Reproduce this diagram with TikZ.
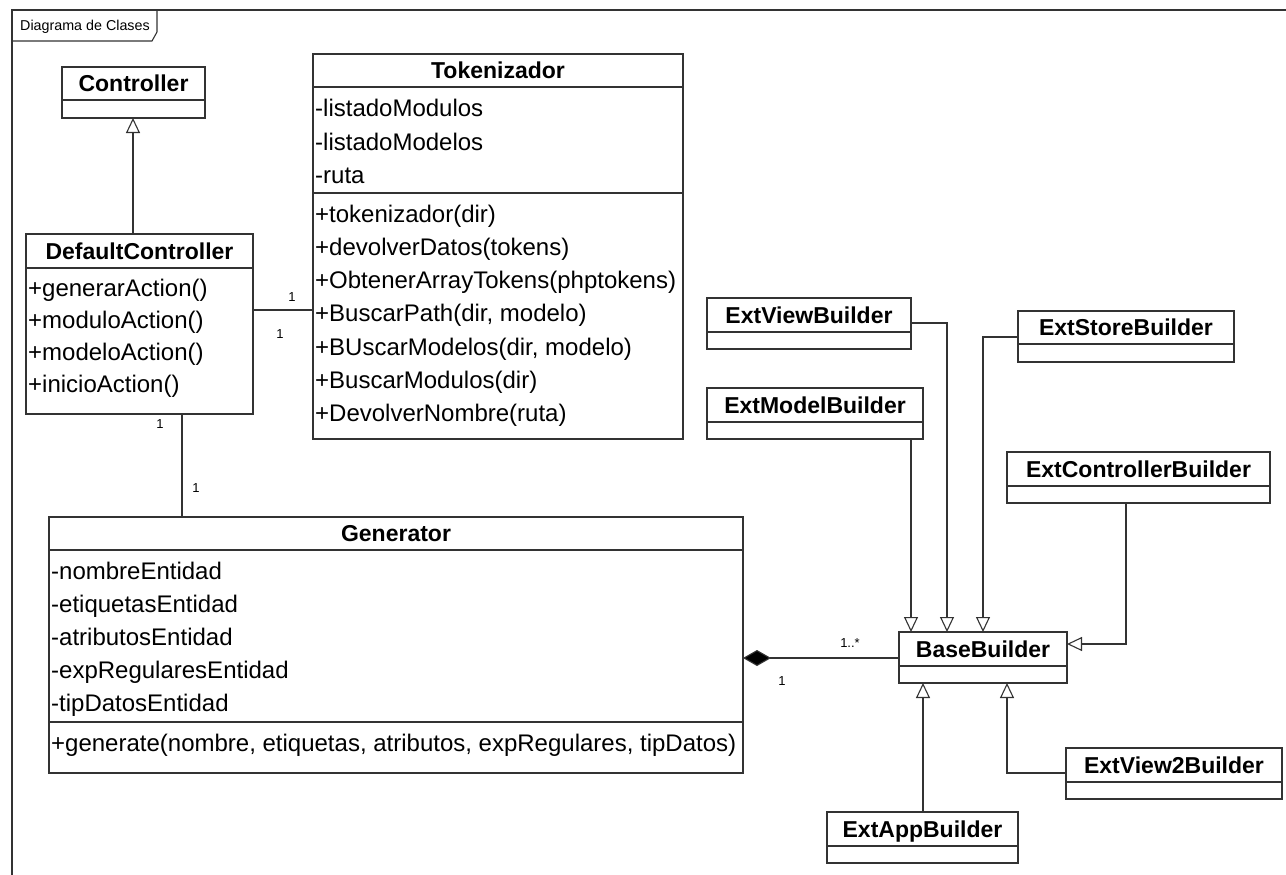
\documentclass[tikz,border=0pt]{standalone}
\usepackage{fontspec}
\setmainfont{Liberation Sans}
\usetikzlibrary{arrows.meta}
\begin{document}
\begin{tikzpicture}[x=1pt,y=-1pt,
  cls/.style={draw=black!80, line width=1.1pt, rectangle, anchor=north west, inner sep=0pt, outer sep=0pt},
  sepline/.style={draw=black!80, line width=1.1pt},
  cname/.style={anchor=base, font=\fontsize{23}{26}\selectfont\bfseries, inner sep=0pt},
  member/.style={anchor=base west, font=\fontsize{24}{27}\selectfont, inner sep=0pt},
  mult/.style={anchor=center, font=\fontsize{13}{15}\selectfont, inner sep=0pt},
  conn/.style={draw=black!80, line width=1.1pt},
  inh/.style={conn, -{Triangle[open, length=15pt, width=14pt, fill=white]}},
  comp/.style={conn, {Diamond[length=28pt, width=16pt, fill=black]}-},
]
\useasboundingbox (0,0) rectangle (1286,875);
% frame
\draw[conn] (12,875) -- (12,10) -- (1286,10);
\draw[conn] (12,41) -- (152,41) -- (157,32) -- (157,10);
\node[anchor=base west, font=\fontsize{14.3}{16}\selectfont, inner sep=0pt] (frametitle) at (20,31) {Diagrama de Clases};

% Controller
\node[cls, minimum width=143, minimum height=51] (ctrl) at (62,67) {};
\draw[sepline] (62,100) -- (205,100);
\node[cname] (ctrlN) at (133.5,91.5) {Controller};

% DefaultController
\node[cls, minimum width=227, minimum height=180] (dc) at (26,234) {};
\draw[sepline] (26,268) -- (253,268);
\node[cname] (dcN) at (139.5,259) {DefaultController};
\node[member] (dc1) at (28,296) {+generarAction()};
\node[member] (dc2) at (28,328) {+moduloAction()};
\node[member] (dc3) at (28,360) {+modeloAction()};
\node[member] (dc4) at (28,392) {+inicioAction()};

% Tokenizador
\node[cls, minimum width=370, minimum height=385] (tok) at (313,54) {};
\draw[sepline] (313,87) -- (683,87);
\draw[sepline] (313,193) -- (683,193);
\node[cname] (tokN) at (498,78.5) {Tokenizador};
\node[member] (ta1) at (315,117) {-listadoModulos};
\node[member] (ta2) at (315,150) {-listadoModelos};
\node[member] (ta3) at (315,183) {-ruta};
\node[member] (tm1) at (315,222) {+tokenizador(dir)};
\node[member] (tm2) at (315,255) {+devolverDatos(tokens)};
\node[member] (tm3) at (315,288) {+ObtenerArrayTokens(phptokens)};
\node[member] (tm4) at (315,321) {+BuscarPath(dir, modelo)};
\node[member] (tm5) at (315,355) {+BUscarModelos(dir, modelo)};
\node[member] (tm6) at (315,388) {+BuscarModulos(dir)};
\node[member] (tm7) at (315,421) {+DevolverNombre(ruta)};

% Generator
\node[cls, minimum width=694, minimum height=256] (gen) at (49,517) {};
\draw[sepline] (49,550) -- (743,550);
\draw[sepline] (49,722) -- (743,722);
\node[cname] (genN) at (396,541.5) {Generator};
\node[member] (ga1) at (51,579) {-nombreEntidad};
\node[member] (ga2) at (51,612) {-etiquetasEntidad};
\node[member] (ga3) at (51,645) {-atributosEntidad};
\node[member] (ga4) at (51,678) {-expRegularesEntidad};
\node[member] (ga5) at (51,711) {-tipDatosEntidad};
\node[member] (gm1) at (51,751) {+generate(nombre, etiquetas, atributos, expRegulares, tipDatos)};

% ExtViewBuilder
\node[cls, minimum width=204, minimum height=51] (ev) at (707,298) {};
\draw[sepline] (707,332) -- (911,332);
\node[cname] (evN) at (809,323) {ExtViewBuilder};

% ExtModelBuilder
\node[cls, minimum width=216, minimum height=51] (em) at (707,388) {};
\draw[sepline] (707,422) -- (923,422);
\node[cname] (emN) at (815,413) {ExtModelBuilder};

% ExtStoreBuilder
\node[cls, minimum width=216, minimum height=51] (es) at (1018,311) {};
\draw[sepline] (1018,344) -- (1234,344);
\node[cname] (esN) at (1126,335.5) {ExtStoreBuilder};

% ExtControllerBuilder
\node[cls, minimum width=263, minimum height=51] (ec) at (1007,452) {};
\draw[sepline] (1007,486) -- (1270,486);
\node[cname] (ecN) at (1138.5,477) {ExtControllerBuilder};

% BaseBuilder
\node[cls, minimum width=168, minimum height=51] (base) at (899,632) {};
\draw[sepline] (899,666) -- (1067,666);
\node[cname] (baseN) at (983,657) {BaseBuilder};

% ExtAppBuilder
\node[cls, minimum width=191, minimum height=51] (ea) at (827,812) {};
\draw[sepline] (827,846) -- (1018,846);
\node[cname] (eaN) at (922.5,837) {ExtAppBuilder};

% ExtView2Builder
\node[cls, minimum width=216, minimum height=51] (ev2) at (1066,748) {};
\draw[sepline] (1066,782) -- (1282,782);
\node[cname] (ev2N) at (1174,773) {ExtView2Builder};

% helper coordinates
\coordinate (xctrl) at (133,0);
\coordinate (ydt) at (0,310);
\coordinate (xdg) at (182,0);
\coordinate (ycomp) at (0,658);
\coordinate (xv) at (947,0);
\coordinate (yv) at (0,323);
\coordinate (xm) at (911,0);
\coordinate (xs) at (983,0);
\coordinate (ys) at (0,337);
\coordinate (xc) at (1126,0);
\coordinate (yc) at (0,644);
\coordinate (xa) at (923,0);
\coordinate (x2) at (1007,0);
\coordinate (y2) at (0,773);

% connectors
\draw[inh] (dc.north -| xctrl) -- (ctrl.south -| xctrl);
\draw[conn] (dc.east |- ydt) -- (tok.west |- ydt);
\node[mult] (m1) at (292,297) {1};
\node[mult] (m2) at (280,334) {1};
\draw[conn] (dc.south -| xdg) -- (gen.north -| xdg);
\node[mult] (m3) at (160,424) {1};
\node[mult] (m4) at (196,488) {1};
\draw[comp] (gen.east |- ycomp) -- (base.west |- ycomp);
\node[mult] (m5) at (850,643) {1..*};
\node[mult] (m6) at (782,681) {1};

\draw[inh] (ev.east |- yv) -| (base.north -| xv);
\draw[inh] (em.south -| xm) -- (base.north -| xm);
\draw[inh] (es.west |- ys) -| (base.north -| xs);
\draw[inh] (ec.south -| xc) |- (base.east |- yc);
\draw[inh] (ea.north -| xa) -- (base.south -| xa);
\draw[inh] (ev2.west |- y2) -| (base.south -| x2);
\end{tikzpicture}
\end{document}
